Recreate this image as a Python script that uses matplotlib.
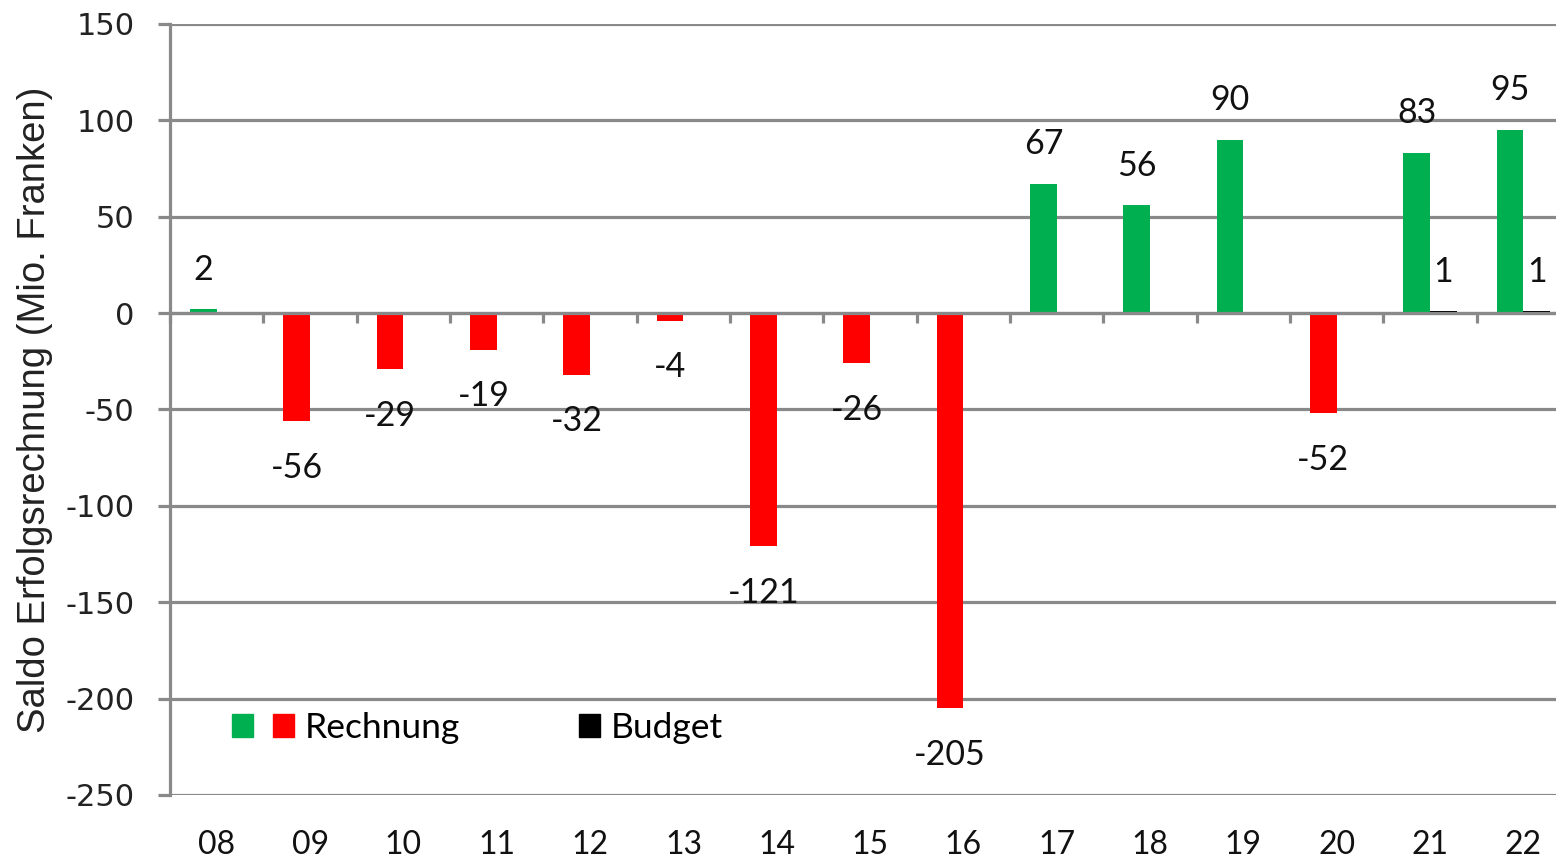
#!/usr/bin/env python3
# -*- coding: utf-8 -*-

import matplotlib
matplotlib.use('Agg')
import matplotlib.pyplot as plt
from matplotlib.patches import Patch
from matplotlib.legend_handler import HandlerTuple
import numpy as np


years    = ['08', '09', '10', '11', '12', '13', '14', '15',
            '16', '17', '18', '19', '20', '21', '22']
rechnung = [2, -56, -29, -19, -32, -4, -121, -26,
            -205, 67, 56, 90, -52, 83, 95]
budget   = [np.nan] * 13 + [1, 1]

GREEN = '#00B050'
RED   = '#FF0000'
GRAY  = '#898989'
LABEL_FONT = ['Lato', 'DejaVu Sans']

plt.rcParams['axes.unicode_minus'] = False


def main():
    fig = plt.figure(figsize=(15.56, 8.64), dpi=100)
    ax  = fig.add_axes([0.1093, 0.0799, 0.8997, 0.8924])

    x      = np.arange(len(years))
    width  = 0.285
    colors = [GREEN if v >= 0 else RED for v in rechnung]

    ax.bar(x - width / 2, rechnung, width, color=colors, zorder=2)
    ax.bar(x + width / 2, budget, width, color='black', zorder=1)

    # value labels
    for xs, vals in ((x - width / 2, rechnung), (x + width / 2, budget)):
        for xi, v in zip(xs, vals):
            if np.isnan(v):
                continue
            if v >= 0:
                ax.annotate(f'{v:g}', (xi, v), xytext=(0, 17),
                            textcoords='offset points', ha='center',
                            va='bottom', fontsize=24.5, family=LABEL_FONT,
                            color='#111111')
            else:
                ax.annotate(f'{v:g}', (xi, v), xytext=(0, -22),
                            textcoords='offset points', ha='center',
                            va='top', fontsize=24.5, family=LABEL_FONT,
                            color='#111111')

    ax.set_xlim(-0.5, len(years) - 0.5)
    ax.set_ylim(-250, 150)
    ax.set_yticks(np.arange(-250, 151, 50))
    ax.yaxis.grid(True, color=GRAY, linewidth=2.3, zorder=0)
    ax.set_axisbelow(True)

    for side in ('top', 'right'):
        ax.spines[side].set_visible(False)
    ax.spines['left'].set_color(GRAY)
    ax.spines['left'].set_linewidth(2.3)
    ax.spines['bottom'].set_position(('data', 0))
    ax.spines['bottom'].set_color(GRAY)
    ax.spines['bottom'].set_linewidth(2.3)
    ax.spines['bottom'].set_zorder(3)

    ax.tick_params(axis='y', direction='out', length=8.6, width=2.3,
                   color=GRAY, pad=17, labelsize=22, labelcolor='#222222')
    ax.set_xticks(x)
    ax.set_xticks(np.arange(len(years) + 1) - 0.5, minor=True)
    ax.tick_params(axis='x', which='major', length=0, labelbottom=False)
    ax.tick_params(axis='x', which='minor', direction='out', length=7,
                   width=2.3, color=GRAY)

    for xi, lab in zip(x, years):
        ax.text(xi, -0.065, lab, transform=ax.get_xaxis_transform(),
                ha='center', va='center', fontsize=23, family=LABEL_FONT,
                color='#111111')

    ax.set_ylabel('Saldo Erfolgsrechnung (Mio. Franken)', fontsize=27.5,
                  family=['Liberation Sans', 'DejaVu Sans'],
                  color='#222222')
    ax.yaxis.set_label_coords(-0.0836, 0.5)

    handles = [(Patch(color=GREEN), Patch(color=RED)),
               (Patch(color='none'), Patch(color='black'))]
    ax.legend(handles, ['Rechnung', 'Budget'], ncol=2, frameon=False,
              loc='center left', bbox_to_anchor=(0.0315, 0.087),
              borderpad=0, handlelength=1.75, handleheight=0.6,
              handletextpad=0.3, columnspacing=2.2,
              handler_map={tuple: HandlerTuple(ndivide=None, pad=0.56)},
              prop={'family': LABEL_FONT, 'size': 25.5})

    fig.savefig('out.png', dpi=100)


if __name__ == '__main__':
    main()
